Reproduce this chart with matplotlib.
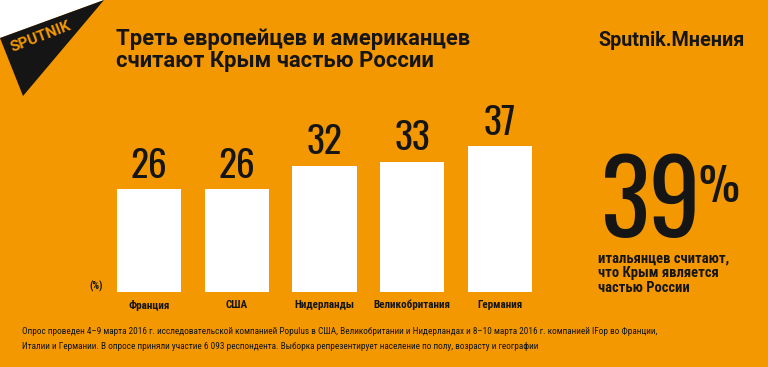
import matplotlib
matplotlib.use("Agg")
from matplotlib import pyplot as plt
from matplotlib.patches import Polygon

# Daten
laender = ["Франция", "США", "Нидерланды", "Великобритания", "Германия"]
werte = [26, 26, 32, 33, 37]
titel = "Треть европейцев и американцев\nсчитают Крым частью России"
italien_wert = 39
italien_text = "итальянцев считают,\nчто Крым является\nчастью России"
fussnote = ("Опрос проведен 4–9 марта 2016 г. исследовательской компанией Populus в США, "
            "Великобритании и Нидерландах и 8–10 марта 2016 г. компанией IFop во Франции,\n"
            "Италии и Германии. В опросе приняли участие 6 093 респондента. Выборка "
            "репрезентирует население по полу, возрасту и географии")

ORANGE = "#F39800"
SCHWARZ = "#151515"

SCHMAL = ["Roboto Condensed", "PT Sans Narrow", "DejaVu Sans"]
ZAHL = ["Oswald", "Roboto Condensed", "DejaVu Sans"]
RUND = ["Roboto", "DejaVu Sans"]

fig = plt.figure(figsize=(7.68, 3.67), dpi=100, facecolor=ORANGE)

# Hintergrund-Achse in Pixelkoordinaten (Logo, Titel, Texte)
bg = fig.add_axes([0, 0, 1, 1])
bg.set_xlim(0, 768)
bg.set_ylim(367, 0)
bg.axis("off")
bg.add_patch(Polygon([(0, 0), (104, 0), (0, 38)], closed=True, color="white", lw=0))
bg.add_patch(Polygon([(104, 0), (0, 38), (23, 96)], closed=True, color=SCHWARZ, lw=0))
bg.text(41, 37, "SPUTNIK", rotation=21, color=ORANGE, fontsize=11, fontweight="bold",
        ha="center", va="center", family=RUND)

bg.text(116, 50, titel, fontsize=15.8, fontweight="bold", color=SCHWARZ,
        ha="left", va="center", linespacing=1.0, family=RUND)
bg.text(745, 40, "Sputnik.Мнения", fontsize=14.2, fontweight="bold", color=SCHWARZ,
        ha="right", va="center", family=RUND)

bg.text(96, 286, "(%)", fontsize=7.5, fontweight="bold", color=SCHWARZ,
        ha="center", va="center", family=SCHMAL)

bg.text(601, 237, str(italien_wert), fontsize=74, fontweight="bold", color=SCHWARZ,
        ha="left", va="baseline", family=ZAHL)
bg.text(698, 202, "%", fontsize=33, fontweight="bold", color=SCHWARZ,
        ha="left", va="baseline", family=ZAHL)
bg.text(598, 273, italien_text, fontsize=10.5, fontweight="bold", color=SCHWARZ,
        ha="left", va="center", linespacing=1.05, family=SCHMAL)

bg.text(22, 339, fussnote, fontsize=6.7, color=SCHWARZ, ha="left", va="center",
        linespacing=1.85, family=SCHMAL)

# Balkendiagramm
links = 105 / 768
breite = (544 - 105) / 768
unten = 1 - 292 / 367
hoehe = 158 / 367
ax = fig.add_axes([links, unten, breite, hoehe])
ax.patch.set_alpha(0)
pos = range(len(werte))
ax.bar(pos, werte, width=0.73, color="white")
ax.set_xlim(-0.5, len(werte) - 0.5)
ax.set_ylim(0, 40)
for sp in ax.spines.values():
    sp.set_visible(False)
ax.set_yticks([])
ax.set_xticks(list(pos))
ax.set_xticklabels(laender, fontsize=8, fontweight="bold", color=SCHWARZ, family=SCHMAL)
ax.tick_params(axis="x", length=0, pad=5.5)
for x, v in zip(pos, werte):
    ax.annotate(str(v), (x, v), xytext=(0, 3), textcoords="offset points",
                ha="center", va="bottom", fontsize=27, fontweight="bold",
                color=SCHWARZ, family=ZAHL)

fig.savefig("out.png", dpi=100, facecolor=ORANGE)
